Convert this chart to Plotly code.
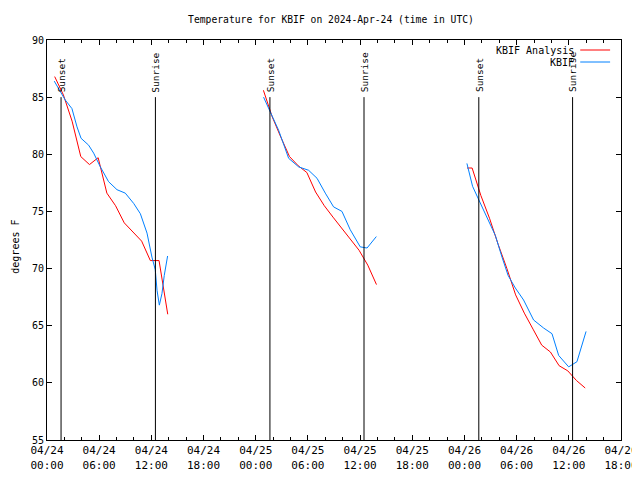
import plotly.graph_objects as go

# ---------------- data ----------------
analysis_day1_times = ["2024-04-24 %02d:53" % h for h in range(0, 14)]
analysis_day1_temps = [86.8, 85.2, 82.9, 79.8, 79.1, 79.7, 76.6, 75.5, 74.0, 73.2, 72.4, 70.7, 70.7, 66.0]

analysis_day2_times = ["2024-04-25 %02d:53" % h for h in range(0, 14)]
analysis_day2_temps = [85.6, 83.3, 81.5, 79.8, 79.0, 78.4, 76.7, 75.5, 74.5, 73.5, 72.6, 71.6, 70.3, 68.6]

analysis_day3_times = ["2024-04-26 00:18"] + ["2024-04-26 %02d:53" % h for h in range(0, 14)]
analysis_day3_temps = [78.8, 78.8, 76.4, 74.4, 72.1, 70.0, 67.7, 66.1, 64.7, 63.3, 62.7, 61.5, 61.05, 60.2, 59.55]

obs_day1_times = ["2024-04-24 " + t for t in [
    "00:50", "01:32", "02:06", "02:52", "03:27", "03:55", "04:47", "05:22", "06:08", "07:05", "08:03",
    "09:00", "09:58", "10:44", "11:30", "12:04", "12:27", "12:39", "12:55", "13:13", "13:29", "13:52"]]
obs_day1_temps = [86.4, 85.5, 84.75, 84.0, 82.4, 81.4, 80.8, 80.1, 78.9, 77.6, 76.9,
                  76.6, 75.7, 74.8, 73.1, 71.0, 69.9, 68.1, 66.8, 67.8, 69.4, 71.1]

obs_day2_times = ["2024-04-25 " + t for t in [
    "00:54", "01:41", "02:38", "03:47", "04:56", "06:05", "07:03", "08:00", "08:57", "09:55",
    "10:52", "12:01", "12:48", "13:52"]]
obs_day2_temps = [85.0, 83.7, 82.1, 79.65, 78.9, 78.6, 77.9, 76.6, 75.4, 75.0, 73.4, 71.9, 71.8, 72.8]

obs_day3_times = ["2024-04-26 " + t for t in [
    "00:17", "00:56", "01:34", "02:35", "03:33", "04:19", "05:01", "05:51", "06:48", "07:57",
    "09:06", "10:04", "10:50", "11:59", "12:56", "13:59"]]
obs_day3_temps = [79.2, 77.2, 76.15, 74.5, 72.9, 71.0, 69.4, 68.3, 67.25, 65.5,
                  64.8, 64.3, 62.4, 61.4, 61.85, 64.5]

sunset_times = ["2024-04-24 01:37", "2024-04-25 01:38", "2024-04-26 01:39"]
sunrise_times = ["2024-04-24 12:28", "2024-04-25 12:27", "2024-04-26 12:26"]
marker_bottom = 55
marker_top = 85
label_level = 85.25

tick_vals = ["2024-04-24 00:00", "2024-04-24 06:00", "2024-04-24 12:00", "2024-04-24 18:00",
             "2024-04-25 00:00", "2024-04-25 06:00", "2024-04-25 12:00", "2024-04-25 18:00",
             "2024-04-26 00:00", "2024-04-26 06:00", "2024-04-26 12:00", "2024-04-26 18:00"]
tick_text = ["04/24<br>00:00", "04/24<br>06:00", "04/24<br>12:00", "04/24<br>18:00",
             "04/25<br>00:00", "04/25<br>06:00", "04/25<br>12:00", "04/25<br>18:00",
             "04/26<br>00:00", "04/26<br>06:00", "04/26<br>12:00", "04/26<br>18:00"]

title_text = "Temperature for KBIF on 2024-Apr-24 (time in UTC)"
series_names = ["KBIF Analysis", "KBIF"]
series_colors = ["#ff0000", "#0080ff"]

# ---------------- figure ----------------
FONT = "DejaVu Sans Mono"
# the page body adds an 8px offset, so the figure is sized to fit the 640x480 window
W, H = 632, 472


def join(parts):
    xs, ys = [], []
    for t, v in parts:
        if xs:
            xs.append(None)
            ys.append(None)
        xs.extend(t)
        ys.extend(v)
    return xs, ys


ax, ay = join([(analysis_day1_times, analysis_day1_temps),
               (analysis_day2_times, analysis_day2_temps),
               (analysis_day3_times, analysis_day3_temps)])
ox, oy = join([(obs_day1_times, obs_day1_temps),
               (obs_day2_times, obs_day2_temps),
               (obs_day3_times, obs_day3_temps)])

fig = go.Figure()
fig.add_trace(go.Scatter(x=ax, y=ay, mode="lines", name=series_names[0],
                         line=dict(color=series_colors[0], width=1), connectgaps=False))
fig.add_trace(go.Scatter(x=ox, y=oy, mode="lines", name=series_names[1],
                         line=dict(color=series_colors[1], width=1), connectgaps=False))

shapes = []
annotations = []
for times, label in [(sunset_times, "Sunset"), (sunrise_times, "Sunrise")]:
    for t in times:
        shapes.append(dict(type="line", xref="x", yref="y", x0=t, x1=t,
                           y0=marker_bottom, y1=marker_top,
                           line=dict(color="black", width=1)))
        annotations.append(dict(x=t, y=label_level, xref="x", yref="y", text=label,
                                textangle=-90, showarrow=False, xanchor="center",
                                yanchor="bottom", font=dict(family=FONT, size=9.5, color="black")))

# manual gnuplot-style legend (top right, inside)
legend_rows = [0.975, 0.945]
for name, color, yy in zip(series_names, series_colors, legend_rows):
    annotations.append(dict(x=0.922, y=yy, xref="paper", yref="paper", text=name,
                            showarrow=False, xanchor="right", yanchor="middle",
                            font=dict(family=FONT, size=10, color="black")))
    shapes.append(dict(type="line", xref="paper", yref="paper", x0=0.929, x1=0.981,
                       y0=yy, y1=yy, line=dict(color=color, width=1)))

annotations.append(dict(x=-39 / 574, y=0.482, xref="paper", yref="paper", text="degrees F",
                        textangle=-90, showarrow=False, xanchor="left", yanchor="middle",
                        font=dict(family=FONT, size=10, color="black")))

fig.update_layout(
    width=W, height=H,
    margin=dict(l=39, r=19, t=32, b=40, autoexpand=False),
    paper_bgcolor="white", plot_bgcolor="white",
    showlegend=False,
    font=dict(family=FONT, size=10, color="black"),
    title=dict(text=title_text, x=(331 - 8) / W, xanchor="center", y=1 - 12 / H, yanchor="middle",
               yref="container", automargin=False, font=dict(family=FONT, size=9.7, color="black")),
    shapes=shapes,
    annotations=annotations,
)
fig.update_xaxes(
    type="date", automargin=False,
    range=["2024-04-24 00:00", "2024-04-26 18:00"],
    tickmode="array", tickvals=tick_vals, ticktext=tick_text,
    ticks="inside", ticklen=5, tickcolor="black", tickwidth=1,
    minor=dict(dtick=2 * 3600 * 1000, ticks="inside", ticklen=3, tickcolor="black", showgrid=False),
    showline=True, linecolor="black", linewidth=1, mirror="allticks",
    showgrid=False, zeroline=False,
    tickfont=dict(family=FONT, size=11, color="black"),
)
fig.update_yaxes(
    range=[55, 90], dtick=5, tick0=55, automargin=False,
    ticks="inside", ticklen=5, tickcolor="black", tickwidth=1,
    showline=True, linecolor="black", linewidth=1, mirror="allticks",
    showgrid=False, zeroline=False,
    tickfont=dict(family=FONT, size=10, color="black"),
)

fig.write_html("out.html")
